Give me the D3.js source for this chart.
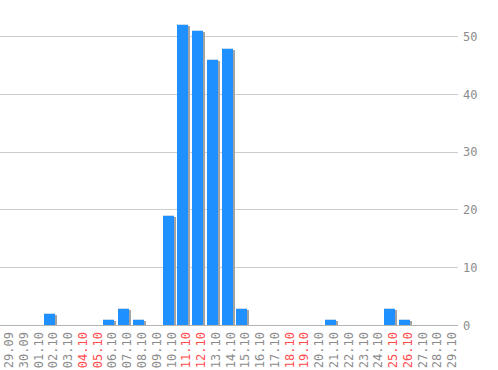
<!DOCTYPE html>
<head>
  <meta charset="utf-8">
  <script src="https://d3js.org/d3.v7.min.js"></script>
  <style>
    body { margin: 0; background: #fff; }
    text { font-family: "DejaVu Sans Mono", monospace; }
  </style>
</head>
<body>
  <script>
    // chart size
    var outerWidth = 498,
      outerHeight = 370;

    // dates on the x axis
    var days = ["29.09", "30.09", "01.10", "02.10", "03.10", "04.10", "05.10", "06.10", "07.10", "08.10",
      "09.10", "10.10", "11.10", "12.10", "13.10", "14.10", "15.10", "16.10", "17.10", "18.10",
      "19.10", "20.10", "21.10", "22.10", "23.10", "24.10", "25.10", "26.10", "27.10", "28.10", "29.10"];

    // counts per day
    var counts = [0, 0, 0, 2, 0, 0, 0, 1, 3, 1,
      0, 19, 52, 51, 46, 48, 3, 0, 0, 0,
      0, 0, 1, 0, 0, 0, 3, 1, 0, 0, 0];

    // weekend days, drawn in red
    var weekends = ["04.10", "05.10", "11.10", "12.10", "18.10", "19.10", "25.10", "26.10"];

    var yTicks = [0, 10, 20, 30, 40, 50];

    var plotRight = 458,
      plotBottom = 325;

    var xScale = d3.scaleBand()
      .domain(days)
      .range([0, plotRight]);

    var yScale = d3.scaleLinear()
      .domain([0, 50])
      .range([plotBottom, 36]);

    var svg = d3.select("body")
      .append("svg")
      .attr("width", outerWidth)
      .attr("height", outerHeight);

    // grid lines
    svg.append("g")
      .selectAll("line")
      .data(yTicks)
      .enter()
      .append("line")
      .attr("x1", 0)
      .attr("x2", plotRight)
      .attr("y1", function(d) { return Math.round(yScale(d)) + 0.5; })
      .attr("y2", function(d) { return Math.round(yScale(d)) + 0.5; })
      .attr("stroke", function(d) { return d === 0 ? "#b4b4b4" : "#cccccc"; })
      .attr("stroke-width", 1);

    // labels on the right
    var yAxis = d3.axisRight(yScale)
      .tickValues(yTicks)
      .tickSize(0)
      .tickPadding(5);

    var yAxisContainer = svg.append("g")
      .attr("transform", "translate(" + plotRight + " 0.5)")
      .call(yAxis);
    yAxisContainer.select(".domain").remove();
    yAxisContainer.selectAll("text")
      .attr("fill", "#8c8c8c")
      .attr("font-size", 12)
      .attr("font-family", "DejaVu Sans Mono, monospace");

    var barWidth = 11;
    var data = days.map(function(d, i) { return { day: d, value: counts[i] }; })
      .filter(function(d) { return d.value > 0; });

    // shadows
    svg.append("g")
      .selectAll("rect")
      .data(data)
      .enter()
      .append("rect")
      .attr("x", function(d) { return Math.round(xScale(d.day)) + 2; })
      .attr("y", function(d) { return Math.round(yScale(d.value)) + 2; })
      .attr("width", barWidth)
      .attr("height", function(d) { return plotBottom - Math.round(yScale(d.value)) - 2; })
      .attr("fill", "#a3a3a3");

    // bars
    svg.append("g")
      .selectAll("rect")
      .data(data)
      .enter()
      .append("rect")
      .attr("x", function(d) { return Math.round(xScale(d.day)); })
      .attr("y", function(d) { return Math.round(yScale(d.value)); })
      .attr("width", barWidth)
      .attr("height", function(d) { return plotBottom - Math.round(yScale(d.value)); })
      .attr("fill", "#1e90ff");

    // light top edge
    svg.append("g")
      .selectAll("rect")
      .data(data)
      .enter()
      .append("rect")
      .attr("x", function(d) { return Math.round(xScale(d.day)); })
      .attr("y", function(d) { return Math.round(yScale(d.value)); })
      .attr("width", barWidth)
      .attr("height", 1)
      .attr("fill", "#c9dcef");

    // rotated date labels
    svg.append("g")
      .selectAll("text")
      .data(days)
      .enter()
      .append("text")
      .attr("transform", function(d) {
        return "translate(" + (xScale(d) + 13) + " 332) rotate(-90)";
      })
      .attr("text-anchor", "end")
      .attr("font-size", 12)
      .attr("fill", function(d) { return weekends.indexOf(d) >= 0 ? "#ff4d4d" : "#8c8c8c"; })
      .text(function(d) { return d; });
  </script>
</body>
